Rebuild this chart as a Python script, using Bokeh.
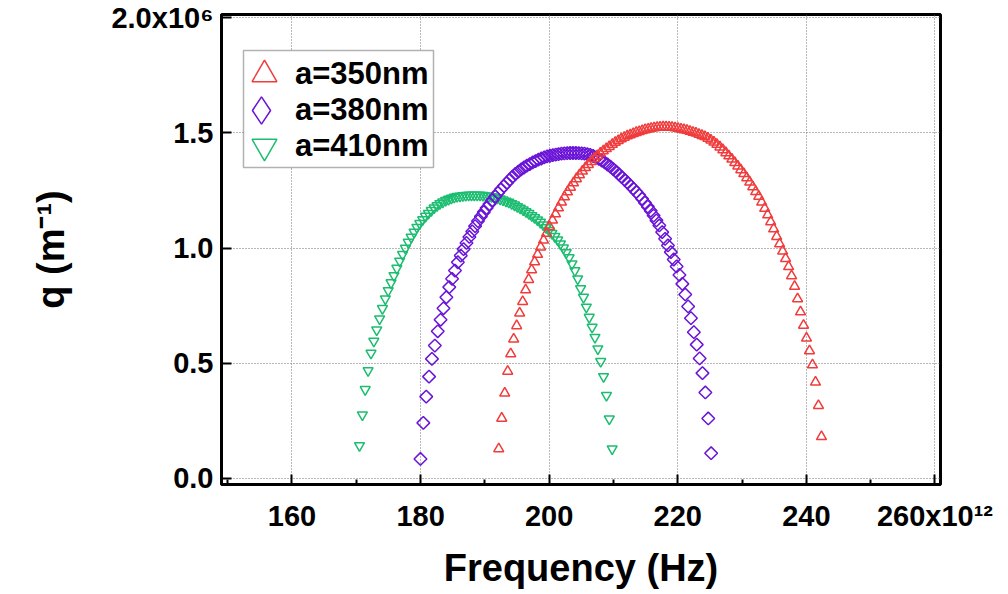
import math
from bokeh.plotting import figure
from bokeh.models import (FixedTicker, Legend, LegendItem, BoxAnnotation, Range1d,
                          CustomJSTickFormatter)
from bokeh.embed import file_html
from bokeh.resources import INLINE

# ---------------- data (frequency in 1e12 Hz, q in 1e6 m^-1) ----------------
f_350 = [192.16, 192.62, 193.09, 193.55, 194.02, 194.48, 194.95, 195.41, 195.88, 196.34,
         196.81, 197.27, 197.74, 198.2, 198.67, 199.13, 199.6, 200.06, 200.52, 200.99,
         201.45, 201.92, 202.38, 202.85, 203.31, 203.78, 204.24, 204.71, 205.17, 205.64,
         206.1, 206.57, 207.03, 207.5, 207.96, 208.42, 208.89, 209.35, 209.82, 210.28,
         210.75, 211.21, 211.68, 212.14, 212.61, 213.07, 213.54, 214.0, 214.47, 214.93,
         215.4, 215.86, 216.32, 216.79, 217.25, 217.72, 218.18, 218.65, 219.11, 219.58,
         220.04, 220.51, 220.97, 221.44, 221.9, 222.37, 222.83, 223.29, 223.76, 224.22,
         224.69, 225.15, 225.62, 226.08, 226.55, 227.01, 227.48, 227.94, 228.41, 228.87,
         229.34, 229.8, 230.27, 230.73, 231.19, 231.66, 232.12, 232.59, 233.05, 233.52,
         233.98, 234.45, 234.91, 235.38, 235.84, 236.31, 236.77, 237.24, 237.7, 238.17,
         238.63, 239.09, 239.56, 240.02, 240.49, 240.95, 241.42, 241.88, 242.35]
q_350 = [0.127, 0.260, 0.369, 0.464, 0.540, 0.604, 0.662, 0.717, 0.767, 0.818,
         0.863, 0.905, 0.940, 0.972, 1.004, 1.034, 1.064, 1.093, 1.121, 1.148,
         1.174, 1.199, 1.222, 1.244, 1.264, 1.283, 1.301, 1.318, 1.334, 1.349,
         1.363, 1.376, 1.389, 1.401, 1.412, 1.422, 1.432, 1.441, 1.450, 1.459,
         1.467, 1.474, 1.481, 1.487, 1.492, 1.497, 1.502, 1.506, 1.510, 1.514,
         1.517, 1.520, 1.522, 1.524, 1.525, 1.526, 1.526, 1.525, 1.524, 1.522,
         1.520, 1.517, 1.514, 1.511, 1.507, 1.503, 1.499, 1.494, 1.489, 1.484,
         1.477, 1.469, 1.460, 1.450, 1.439, 1.427, 1.414, 1.400, 1.386, 1.371,
         1.356, 1.340, 1.323, 1.305, 1.286, 1.266, 1.245, 1.224, 1.199, 1.172,
         1.144, 1.114, 1.083, 1.050, 1.018, 0.986, 0.954, 0.919, 0.879, 0.833,
         0.779, 0.722, 0.664, 0.608, 0.553, 0.492, 0.417, 0.315, 0.180]

f_380 = [179.98, 180.43, 180.88, 181.32, 181.77, 182.22, 182.67, 183.11, 183.56, 184.01,
         184.46, 184.90, 185.35, 185.80, 186.25, 186.69, 187.14, 187.59, 188.04, 188.48,
         188.93, 189.38, 189.83, 190.27, 190.72, 191.17, 191.62, 192.07, 192.51, 192.96,
         193.41, 193.86, 194.30, 194.75, 195.20, 195.65, 196.09, 196.54, 196.99, 197.44,
         197.88, 198.33, 198.78, 199.23, 199.67, 200.12, 200.57, 201.02, 201.46, 201.91,
         202.36, 202.81, 203.26, 203.70, 204.15, 204.60, 205.05, 205.49, 205.94, 206.39,
         206.84, 207.28, 207.73, 208.18, 208.63, 209.07, 209.52, 209.97, 210.42, 210.86,
         211.31, 211.76, 212.21, 212.65, 213.10, 213.55, 214.00, 214.45, 214.89, 215.34,
         215.79, 216.24, 216.68, 217.13, 217.58, 218.03, 218.47, 218.92, 219.37, 219.82,
         220.26, 220.71, 221.16, 221.61, 222.05, 222.50, 222.95, 223.40, 223.84, 224.29,
         224.74, 225.19]
q_380 = [0.083, 0.240, 0.354, 0.441, 0.518, 0.576, 0.638, 0.688, 0.738, 0.786,
         0.830, 0.866, 0.902, 0.938, 0.967, 0.995, 1.022, 1.048, 1.072, 1.095,
         1.117, 1.137, 1.156, 1.174, 1.191, 1.208, 1.224, 1.240, 1.255, 1.269,
         1.283, 1.297, 1.310, 1.322, 1.332, 1.342, 1.350, 1.358, 1.365, 1.372,
         1.378, 1.384, 1.389, 1.394, 1.398, 1.401, 1.404, 1.406, 1.408, 1.410,
         1.411, 1.412, 1.413, 1.413, 1.413, 1.412, 1.411, 1.410, 1.408, 1.405,
         1.400, 1.394, 1.387, 1.380, 1.372, 1.363, 1.354, 1.343, 1.332, 1.320,
         1.308, 1.296, 1.284, 1.271, 1.258, 1.244, 1.230, 1.214, 1.197, 1.180,
         1.162, 1.141, 1.120, 1.098, 1.069, 1.040, 1.011, 0.982, 0.950, 0.920,
         0.883, 0.844, 0.798, 0.746, 0.695, 0.634, 0.580, 0.520, 0.456, 0.372,
         0.259, 0.108]

f_410 = [170.50, 170.95, 171.39, 171.84, 172.29, 172.73, 173.18, 173.63, 174.07, 174.52,
         174.97, 175.41, 175.86, 176.31, 176.75, 177.20, 177.65, 178.09, 178.54, 178.99,
         179.43, 179.88, 180.33, 180.77, 181.22, 181.67, 182.11, 182.56, 183.00, 183.45,
         183.90, 184.34, 184.79, 185.24, 185.68, 186.13, 186.58, 187.02, 187.47, 187.92,
         188.36, 188.81, 189.26, 189.70, 190.15, 190.60, 191.04, 191.49, 191.94, 192.38,
         192.83, 193.28, 193.72, 194.17, 194.62, 195.06, 195.51, 195.96, 196.40, 196.85,
         197.30, 197.74, 198.19, 198.64, 199.08, 199.53, 199.98, 200.42, 200.87, 201.32,
         201.76, 202.21, 202.66, 203.10, 203.55, 204.00, 204.44, 204.89, 205.34, 205.78,
         206.23, 206.68, 207.12, 207.57, 208.01, 208.46, 208.91, 209.35, 209.80]
q_410 = [0.141, 0.275, 0.385, 0.467, 0.543, 0.595, 0.644, 0.692, 0.737, 0.779,
         0.815, 0.849, 0.880, 0.912, 0.943, 0.972, 0.999, 1.025, 1.047, 1.069,
         1.090, 1.107, 1.123, 1.138, 1.151, 1.163, 1.174, 1.184, 1.193, 1.200,
         1.207, 1.212, 1.217, 1.221, 1.224, 1.226, 1.228, 1.229, 1.230, 1.230,
         1.230, 1.230, 1.230, 1.229, 1.227, 1.225, 1.223, 1.220, 1.217, 1.213,
         1.209, 1.204, 1.199, 1.193, 1.187, 1.180, 1.173, 1.166, 1.158, 1.150,
         1.141, 1.132, 1.122, 1.112, 1.101, 1.089, 1.077, 1.064, 1.050, 1.035,
         1.018, 1.000, 0.980, 0.958, 0.931, 0.902, 0.866, 0.823, 0.786, 0.743,
         0.699, 0.656, 0.612, 0.562, 0.507, 0.441, 0.359, 0.257, 0.127]

series_labels = ["a=350nm", "a=380nm", "a=410nm"]
x_ticks = [160, 180, 200, 220, 240, 260]
x_minor = [150, 170, 190, 210, 230, 250]
y_ticks = [0.0, 0.5, 1.0, 1.5, 2.0]
x_last_label = "260x10\u00b9\u00b2"
y_last_label = "2.0x10\u2076"

FONT = "Liberation Sans"
RED = "#f03c3c"
PURPLE = "#6a14d8"
GREEN = "#1cbd70"

p = figure(width=1008, height=594, output_backend="svg", toolbar_location=None,
           x_range=Range1d(149.04, 260.86), y_range=Range1d(-0.028, 2.015),
           min_border_left=221, min_border_right=68, min_border_top=14,
           min_border_bottom=110)
p.background_fill_color = "white"
p.border_fill_color = "white"
p.outline_line_color = "black"
p.outline_line_width = 3

for ax, tk, mn in ((p.xaxis, x_ticks, x_minor), (p.yaxis, y_ticks, [])):
    ax.ticker = FixedTicker(ticks=tk, minor_ticks=mn)
    ax.axis_line_color = "black"
    ax.axis_line_width = 3
    ax.major_tick_in = 10
    ax.major_tick_out = 0
    ax.minor_tick_in = 5
    ax.minor_tick_out = 0
    ax.major_tick_line_width = 2
    ax.minor_tick_line_width = 2
    ax.major_label_text_font = FONT
    ax.major_label_text_font_style = "bold"
    ax.major_label_text_font_size = "29px"
    ax.major_label_text_color = "black"
    ax.axis_label_text_font = FONT
    ax.axis_label_text_font_style = "bold"
    ax.axis_label_text_font_size = "38px"
    ax.axis_label_text_color = "black"

p.yaxis.minor_tick_line_color = None
p.xaxis.major_label_standoff = 15
p.yaxis.major_label_standoff = 8
p.xaxis.formatter = CustomJSTickFormatter(
    args=dict(last=x_last_label),
    code="return tick > 259 ? last : tick.toFixed(0);")
p.yaxis.formatter = CustomJSTickFormatter(
    args=dict(last=y_last_label),
    code="return tick > 1.9 ? last : tick.toFixed(1);")
p.xaxis.axis_label = "Frequency (Hz)"
p.xaxis.axis_label_standoff = 12
p.yaxis.axis_label = "q (m\u207b\u00b9)"
p.yaxis.axis_label_standoff = 36

p.xgrid.ticker = FixedTicker(ticks=x_ticks)
p.ygrid.ticker = FixedTicker(ticks=y_ticks)
for g in (p.xgrid, p.ygrid):
    g.grid_line_color = "#707070"
    g.grid_line_dash = "1 2"
    g.grid_line_width = 1

r_g = p.scatter(f_410, q_410, marker="inverted_triangle", size=10, fill_color=None,
                line_color=GREEN, line_width=1.5)
r_p = p.scatter(f_380, q_380, marker="square", angle=math.pi / 4, size=9, fill_color=None,
                line_color=PURPLE, line_width=1.5)
r_r = p.scatter(f_350, q_350, marker="triangle", size=10, fill_color=None,
                line_color=RED, line_width=1.5)
# zero-size copy of the 380nm series, used only for its diamond legend symbol
r_p_leg = p.scatter(f_380, q_380, marker="diamond", size=0, fill_color=None,
                    line_color=PURPLE, line_width=1.5)

# legend frame
box = BoxAnnotation(left=22, right=212, bottom=317, top=434,
                    left_units="screen", right_units="screen",
                    bottom_units="screen", top_units="screen",
                    fill_color="white", fill_alpha=1.0,
                    line_color="black", line_width=1.5)
p.add_layout(box)

# one legend per row: (label, renderer, location, glyph box)
rows = ((series_labels[0], r_r, (12, 379), 62),
        (series_labels[1], r_p_leg, (6, 340), 68),
        (series_labels[2], r_g, (12, 307), 62))
for lbl, rend, loc, gsz in rows:
    lg = Legend(items=[LegendItem(label=lbl, renderers=[rend])],
                location=loc, padding=0, spacing=0, margin=0,
                glyph_width=gsz, glyph_height=gsz, label_standoff=0,
                label_text_font=FONT, label_text_font_style="bold",
                label_text_font_size="31px", label_text_color="black",
                border_line_color=None, background_fill_alpha=0)
    p.add_layout(lg)

open("out.html", "w").write(file_html(p, INLINE))
